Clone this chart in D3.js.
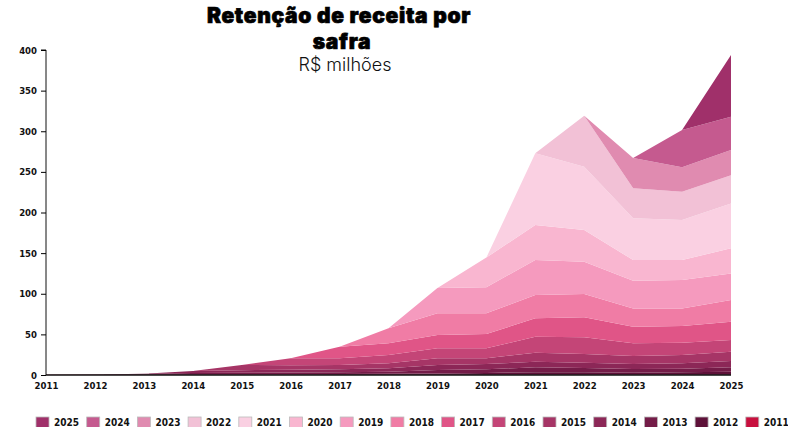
<!DOCTYPE html>
<html>
<head>
<meta charset="utf-8">
<script src="https://cdn.jsdelivr.net/npm/d3@7"></script>
<style>
body { margin:0; background:#fff; }
.tick text { font-family:"DejaVu Sans Condensed","DejaVu Sans",sans-serif; font-weight:bold; font-size:9.5px; fill:#111; }
.legend text { font-family:"DejaVu Sans Condensed","DejaVu Sans",sans-serif; font-weight:bold; font-size:10px; fill:#111; }
</style>
</head>
<body>
<svg id="chart"></svg>
<script>
var years = [2011,2012,2013,2014,2015,2016,2017,2018,2019,2020,2021,2022,2023,2024,2025]
var yTicks = [0,50,100,150,200,250,300,350,400]

// revenue of each cohort (safra) per year, R$ millions
var c2011 = [0.2,0.2,0.2,0.2,0.2,0.2,0.2,0.2,0.2,0.2,0.2,0.2,0.2,0.2,0.2]
var c2012 = [0,0.4,0.6,0.8,0.8,0.8,1.0,1.3,1.8,2.3,3.3,3.3,2.7,3.1,3.8]
var c2013 = [0,0,0.8,1.5,1.8,2.0,2.1,2.5,4.2,4.5,5.9,5.1,4.5,4.5,5.4]
var c2014 = [0,0,0,2.5,3.2,3.5,3.7,4.2,6.1,6.5,7.0,6.6,6.1,6.6,7.8]
var c2015 = [0,0,0,0,6.3,5.5,5.3,6.2,8.2,7.0,11.1,10.6,9.9,10.2,11.5]
var c2016 = [0,0,0,0,0,8.5,8.2,10.2,12.3,12.3,19.7,20.6,15.6,15.2,14.3]
var c2017 = [0,0,0,0,0,0,14.4,14.4,16.4,17.7,22.5,24.6,20.5,20.5,22.6]
var c2018 = [0,0,0,0,0,0,0,18.4,26.7,25.4,28.8,28.7,22.5,21.7,26.7]
var c2019 = [0,0,0,0,0,0,0,0,31.1,32.1,43.0,39.8,34.0,35.0,32.7]
var c2020 = [0,0,0,0,0,0,0,0,0,36.5,43.1,39.0,25.5,24.5,31.0]
var c2021 = [0,0,0,0,0,0,0,0,0,0,88.4,77.9,51.3,49.3,55.0]
var c2022 = [0,0,0,0,0,0,0,0,0,0,0,62.6,36.9,34.8,35.0]
var c2023 = [0,0,0,0,0,0,0,0,0,0,0,0,37.3,30.0,31.0]
var c2024 = [0,0,0,0,0,0,0,0,0,0,0,0,0,45.9,41.0]
var c2025 = [0,0,0,0,0,0,0,0,0,0,0,0,0,0,76.0]

var cohorts = ["2011","2012","2013","2014","2015","2016","2017","2018","2019","2020","2021","2022","2023","2024","2025"]
var cohortValues = [c2011,c2012,c2013,c2014,c2015,c2016,c2017,c2018,c2019,c2020,c2021,c2022,c2023,c2024,c2025]
var cohortColors = ["#C8103E","#5E1139","#741C48","#8C2757","#A63566","#C44577","#E05587","#F07CA5",
                    "#F59ABE","#F9B6D0","#FAD0E2","#F2C1D6","#E08BB0","#C55A8F","#A0306A"]

var screen = {width:788, height:427}
var margins = {top:50, left:46, right:57, bottom:52}
var graph = {
    width:screen.width-margins.left-margins.right,
    height:screen.height-margins.top-margins.bottom
}

var svg = d3.select("#chart")
    .attr("width",screen.width)
    .attr("height",screen.height)

// one row per year, one column per cohort
var rows = years.map(function(year,i)
{
    var row = {year:year}
    cohorts.forEach(function(c,j){ row[c] = cohortValues[j][i]; })
    return row
})

var stack = d3.stack().keys(cohorts)
var layers = stack(rows)

var xScale = d3.scaleLinear()
    .domain([years[0],years[years.length-1]])
    .range([0,graph.width])

var yScale = d3.scaleLinear()
    .domain([0,400])
    .range([graph.height,0])

var area = d3.area()
    .x(function(d){ return xScale(d.data.year); })
    .y0(function(d){ return yScale(d[0]); })
    .y1(function(d){ return yScale(d[1]); })

var g = svg.append("g")
    .classed("graph",true)
    .attr("transform","translate("+margins.left+","+margins.top+")")

g.selectAll("path")
    .data(layers)
    .enter()
    .append("path")
    .attr("d",area)
    .attr("fill",function(d,i){ return cohortColors[i]; })

// axes
var yAxis = d3.axisLeft(yScale)
    .tickValues(yTicks)
    .tickSize(5)
    .tickPadding(4)

var xAxis = d3.axisBottom(xScale)
    .tickValues(years)
    .tickFormat(d3.format("d"))
    .tickSize(0)
    .tickPadding(7)

g.append("g")
    .attr("id","yAxis")
    .call(yAxis)
    .call(function(a){ a.select(".domain").attr("stroke","#111").attr("d","M-5,0H0V"+graph.height); })

g.append("g")
    .attr("id","xAxis")
    .attr("transform","translate(0,"+graph.height+")")
    .call(xAxis)
    .call(function(a){ a.select(".domain").attr("stroke","#111").attr("stroke-width",1.3).attr("d","M0,0H"+graph.width); })

// titles
var labels = svg.append("g").classed("labels",true)

var titleLines = ["Retenção de receita por","safra"]

labels.selectAll("text.title")
    .data(titleLines)
    .enter()
    .append("text")
    .classed("title",true)
    .text(function(d){ return d; })
    .attr("x",function(d,i){ return i==0 ? 339 : 342; })
    .attr("y",function(d,i){ return 23+i*26; })
    .attr("text-anchor","middle")
    .style("font-family","Inter, sans-serif")
    .style("font-weight","900")
    .style("font-size","21px")
    .style("letter-spacing","0.7px")
    .attr("fill","#000")
    .attr("stroke","#000")
    .attr("stroke-width",0.7)

labels.append("text")
    .text("R$ milhões")
    .attr("x",345).attr("y",71)
    .attr("text-anchor","middle")
    .style("font-family","Inter, sans-serif")
    .style("font-weight","300")
    .style("font-size","18px")
    .attr("fill","#111")

// legend, newest cohort first
var legendItems = cohorts.slice().reverse()

var legend = svg.append("g")
    .classed("legend",true)
    .attr("transform","translate(36,417)")

var item = legend.selectAll("g")
    .data(legendItems)
    .enter()
    .append("g")
    .attr("transform",function(d,i){ return "translate("+(i*50.7)+",0)"; })

item.append("rect")
    .attr("width",13)
    .attr("height",13)
    .attr("fill",function(d){ return cohortColors[cohorts.indexOf(d)]; })
    .attr("stroke","#bbb")
    .attr("stroke-width",0.8)

item.append("text")
    .text(function(d){ return d; })
    .attr("x",18)
    .attr("y",8.5)
</script>
</body>
</html>
